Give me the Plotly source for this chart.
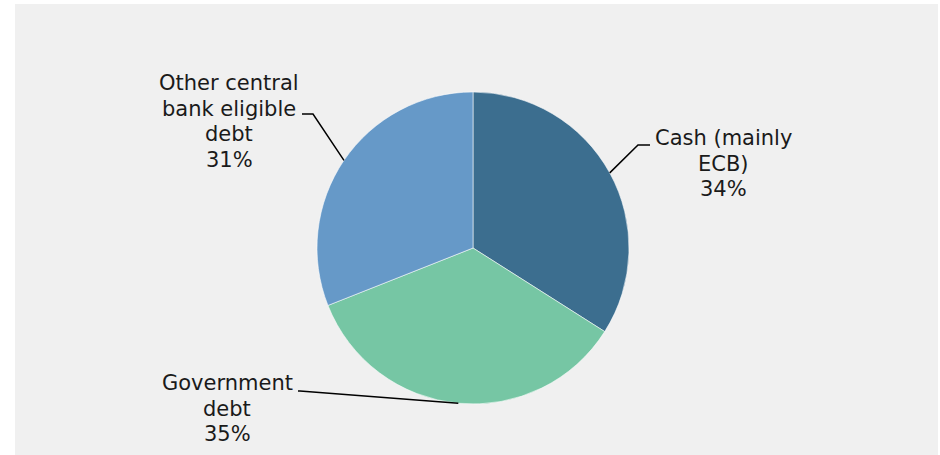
import math
import plotly.graph_objects as go

# Liquidity buffer composition
categories = ["Cash (mainly ECB)", "Government debt", "Other central bank eligible debt"]
shares = [34, 35, 31]
label_lines = [["Cash (mainly", "ECB)"], ["Government", "debt"], ["Other central", "bank eligible", "debt"]]
colors = ["#3c6e8f", "#76c6a4", "#6699c8"]

W, H = 940, 455
CX, CY, R = 473, 248, 156          # pie centre and radius in pixels

# label placement: (elbow x, elbow y, line end x, text centre x, first line centre y)
label_layout = [
    (638, 145, 650, 723, 138),
    (300, 391, 298, 227, 383),
    (313, 114, 302, 229, 83),
]
LINE_STEP = 25.5
FONT = dict(family="DejaVu Sans, Verdana, sans-serif", size=21, color="#1a1a1a")


def px(x):
    return x / W


def py(y):
    return 1 - y / H


fig = go.Figure(
    go.Pie(
        labels=categories,
        values=shares,
        sort=False,
        direction="clockwise",
        rotation=0,
        marker=dict(colors=colors, line=dict(color="rgba(255,255,255,0.55)", width=1)),
        textinfo="none",
        hoverinfo="label+percent",
        showlegend=False,
        domain=dict(x=[px(CX - R), px(CX + R)], y=[py(CY + R), py(CY - R)]),
    )
)

shapes = [
    dict(type="rect", xref="paper", yref="paper", x0=px(15), x1=px(938), y0=0, y1=py(4),
         fillcolor="#f0f0f0", line=dict(width=0), layer="below")
]
annotations = []

total = sum(shares)
cum = 0
for i, v in enumerate(shares):
    mid = (cum + v / 2) / total * 2 * math.pi
    cum += v
    ex = CX + R * math.sin(mid)
    ey = CY - R * math.cos(mid)
    bx, by, lx, tx, ty = label_layout[i]
    shapes.append(dict(
        type="path", xref="paper", yref="paper",
        path=f"M {px(ex)} {py(ey)} L {px(bx)} {py(by)} L {px(lx)} {py(by)}",
        line=dict(color="#000000", width=1.5),
    ))
    pct = round(v / total * 100)
    for j, txt in enumerate(label_lines[i] + [f"{pct}%"]):
        annotations.append(dict(
            x=px(tx), y=py(ty + j * LINE_STEP), xref="paper", yref="paper",
            text=txt, showarrow=False, xanchor="center", yanchor="middle",
            font=FONT,
        ))

fig.update_layout(
    width=W, height=H,
    margin=dict(l=0, r=0, t=0, b=0),
    paper_bgcolor="#ffffff",
    plot_bgcolor="#ffffff",
    shapes=shapes,
    annotations=annotations,
)

fig.write_html("out.html")
